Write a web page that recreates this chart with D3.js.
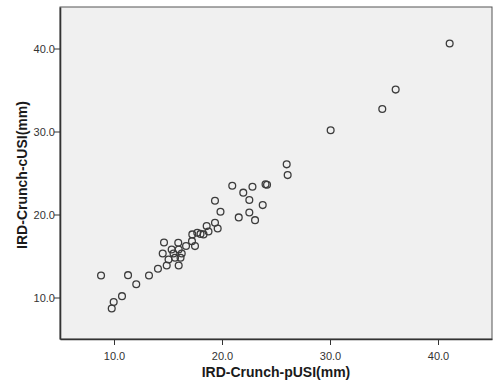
<!DOCTYPE html>
<html>
<head>
<meta charset="utf-8">
<script src="https://cdn.jsdelivr.net/npm/d3@7"></script>
<style>
  body { margin: 0; background: #fff; }
  svg { display: block; }
</style>
</head>
<body>
<div id="chart"></div>
<script>
const pUSI = [8.8, 9.97, 9.79, 10.74, 11.3, 12.06, 13.24, 14.07, 14.63, 14.51,
  14.88, 15.05, 15.51, 15.95, 15.99, 15.99, 16.27, 16.16, 15.65, 15.34,
  16.67, 17.22, 17.5, 17.25, 17.71, 18.01, 18.29, 18.58, 18.75, 19.35,
  19.6, 19.35, 19.86, 20.95, 21.97, 21.55, 22.53, 22.53, 22.82, 23.06,
  23.77, 24.03, 24.17, 25.99, 26.08, 30.06, 34.84, 36.08, 41.08];
const cUSI = [12.65, 9.46, 8.67, 10.16, 12.69, 11.6, 12.65, 13.46, 16.63, 15.31,
  13.86, 14.58, 15.31, 16.6, 15.79, 13.86, 15.31, 14.79, 14.79, 15.79,
  16.21, 16.79, 16.19, 17.6, 17.8, 17.66, 17.6, 18.6, 17.96, 19.01,
  18.32, 21.66, 20.34, 23.47, 22.63, 19.65, 21.74, 20.25, 23.35, 19.32,
  21.13, 23.63, 23.59, 26.04, 24.75, 30.15, 32.71, 35.05, 40.6];
const ticks = [10, 20, 30, 40];
const xTitle = "IRD-Crunch-pUSI(mm)";
const yTitle = "IRD-Crunch-cUSI(mm)";

const width = 500, height = 382;
const margin = {top: 7, right: 8, bottom: 43, left: 60};

const svg = d3.select("#chart").append("svg")
    .attr("width", width)
    .attr("height", height);

let x = d3.scaleLinear()
  .domain([5, 45])
  .range([margin.left, width - margin.right]);

let y = d3.scaleLinear()
  .domain([5, 45])
  .range([height - margin.bottom, margin.top]);

// plot background + frame
svg.append("rect")
    .attr("x", margin.left)
    .attr("y", margin.top)
    .attr("width", width - margin.left - margin.right)
    .attr("height", height - margin.top - margin.bottom)
    .attr("fill", "#f0f0f0")
    .attr("stroke", "#555")
    .attr("stroke-width", 1);

let fmt = d3.format(".1f");

let xAxis = g => g
  .attr("transform", `translate(0,${height - margin.bottom})`)
  .call(d3.axisBottom(x).tickValues(ticks).tickFormat(fmt).tickSize(6).tickSizeOuter(0))
  .call(g => g.select(".domain").attr("stroke", "#333").attr("stroke-width", 1.6))
  .call(g => g.selectAll(".tick line").attr("stroke", "#333"))
  .call(g => g.selectAll(".tick text")
      .attr("fill", "#333")
      .attr("dy", "1.05em")
      .style("font", "11px 'Liberation Sans', Arial, sans-serif"));

let yAxis = g => g
  .attr("transform", `translate(${margin.left},0)`)
  .call(d3.axisLeft(y).tickValues(ticks).tickFormat(fmt).tickSize(6).tickSizeOuter(0))
  .call(g => g.select(".domain").attr("stroke", "#333").attr("stroke-width", 1.6))
  .call(g => g.selectAll(".tick line").attr("stroke", "#333"))
  .call(g => g.selectAll(".tick text")
      .attr("fill", "#333")
      .attr("x", -5)
      .style("font", "11px 'Liberation Sans', Arial, sans-serif"));

svg.append("g").call(xAxis);
svg.append("g").call(yAxis);

// points
svg.append("g")
    .attr("fill", "none")
    .attr("stroke", "#3c3c3c")
    .attr("stroke-width", 1.3)
  .selectAll("circle")
  .data(d3.range(pUSI.length))
  .join("circle")
    .attr("cx", i => x(pUSI[i]))
    .attr("cy", i => y(cUSI[i]))
    .attr("r", 3.4);

// axis titles
svg.append("text")
    .attr("x", 276)
    .attr("y", 377)
    .attr("text-anchor", "middle")
    .attr("fill", "#1a1a1a")
    .style("font", "bold 14px 'Liberation Sans', Arial, sans-serif")
    .text(xTitle);

svg.append("text")
    .attr("transform", "translate(27,175) rotate(-90)")
    .attr("text-anchor", "middle")
    .attr("fill", "#1a1a1a")
    .style("font", "bold 14px 'Liberation Sans', Arial, sans-serif")
    .text(yTitle);
</script>
</body>
</html>
